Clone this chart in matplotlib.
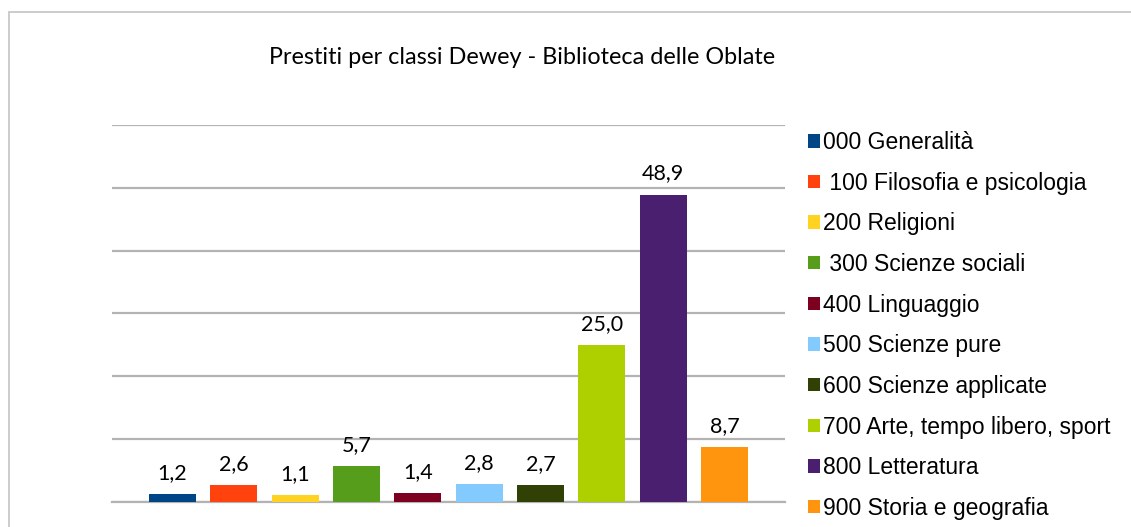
import matplotlib
matplotlib.use("Agg")
import matplotlib.pyplot as plt
from matplotlib.patches import Patch, Rectangle

title = "Prestiti per classi Dewey - Biblioteca delle Oblate"
categories = ["000 Generalità", " 100 Filosofia e psicologia", "200 Religioni",
              " 300 Scienze sociali", "400 Linguaggio", "500 Scienze pure",
              "600 Scienze applicate", "700 Arte, tempo libero, sport",
              "800 Letteratura", "900 Storia e geografia"]
values = [1.2, 2.6, 1.1, 5.7, 1.4, 2.8, 2.7, 25.0, 48.9, 8.7]
colors = ["#004586", "#ff420e", "#ffd320", "#579d1c", "#7e0021",
          "#83caff", "#314004", "#aecf00", "#4b1f6f", "#ff950e"]
yticks = [0, 10, 20, 30, 40, 50, 60]

W, H = 1131, 527
fig = plt.figure(figsize=(W / 100, H / 100), dpi=100)
fig.patch.set_facecolor("white")

# chart border (cut at right and bottom)
fig.patches.append(Rectangle((9 / W, -0.1), 1.2, (H - 12) / H + 0.1,
                             transform=fig.transFigure, fill=False,
                             edgecolor="#c8c8c8", linewidth=1.3, zorder=0))

ax = fig.add_axes([112 / W, (H - 501.7) / H, (785 - 112) / W, (501.7 - 125) / H])
x = list(range(len(values)))
bars = ax.bar(x, values, width=0.77, color=colors, zorder=3)
ax.set_xlim(-0.987, 9.987)
ax.set_ylim(0, 60)
ax.set_yticks(yticks)
ax.yaxis.grid(True, color="#b3b3b3", linewidth=1.6, zorder=0)
ax.set_axisbelow(True)
ax.tick_params(left=False, bottom=False, labelleft=False, labelbottom=False)
for s in ["top", "right", "left"]:
    ax.spines[s].set_visible(False)
ax.spines["bottom"].set_color("#b3b3b3")
ax.spines["bottom"].set_linewidth(1.6)

ax.bar_label(bars, labels=[f"{v:.1f}".replace(".", ",") for v in values],
             padding=8, fontsize=15.5, family="Lato", color="#000000")

fig.text(522 / W, (H - 57) / H, title, ha="center", va="center",
         fontsize=16.8, family="Lato", color="#000000")

handles = [Patch(facecolor=c, edgecolor="none") for c in colors]
leg = fig.legend(handles, categories, loc="upper left",
                 bbox_to_anchor=(808 / W, (H - 131) / H),
                 frameon=False, prop={"family": "Liberation Sans", "size": 16.5},
                 handlelength=0.52, handleheight=0.52, handletextpad=0.14,
                 labelspacing=0.77, borderpad=0, borderaxespad=0)

fig.savefig("out.png", dpi=100)
